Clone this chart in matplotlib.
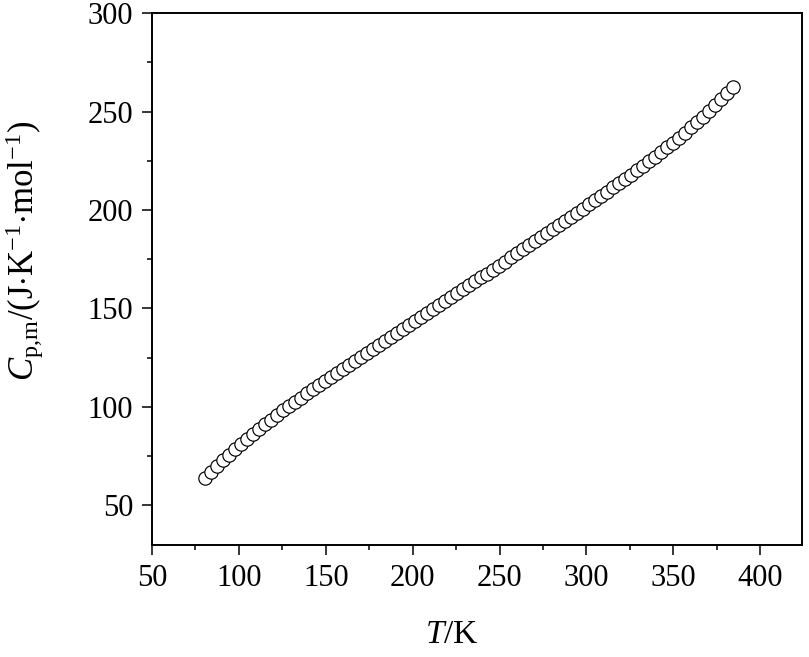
import matplotlib
matplotlib.use("Agg")
import matplotlib.pyplot as plt
from matplotlib.ticker import MultipleLocator

T = [80.5, 84.0, 87.4, 90.9, 94.3, 97.8, 101.2, 104.7, 108.1, 111.6,
     115.0, 118.5, 121.9, 125.4, 128.8, 132.3, 135.7, 139.2, 142.6, 146.1,
     149.5, 153.0, 156.4, 159.9, 163.3, 166.8, 170.2, 173.7, 177.1, 180.6,
     184.0, 187.5, 190.9, 194.4, 197.8, 201.3, 204.7, 208.2, 211.6, 215.1,
     218.5, 222.0, 225.4, 228.9, 232.3, 235.8, 239.2, 242.7, 246.1, 249.6,
     253.0, 256.5, 259.9, 263.4, 266.8, 270.3, 273.7, 277.2, 280.6, 284.1,
     287.5, 291.0, 294.4, 297.9, 301.3, 304.8, 308.2, 311.7, 315.1, 318.6,
     322.0, 325.5, 328.9, 332.4, 335.8, 339.3, 342.7, 346.2, 349.6, 353.1,
     356.5, 360.0, 363.4, 366.9, 370.3, 373.8, 377.2, 380.7, 384.1]

Cp = [63.6, 66.7, 69.7, 72.7, 75.5, 78.4, 81.1, 83.7, 86.3, 88.9,
      91.2, 93.5, 95.9, 98.2, 100.3, 102.5, 104.6, 106.8, 108.9, 111.0,
      113.1, 115.2, 117.2, 119.3, 121.3, 123.4, 125.4, 127.4, 129.4, 131.5,
      133.5, 135.6, 137.6, 139.7, 141.7, 143.7, 145.7, 147.7, 149.7, 151.7,
      153.7, 155.7, 157.7, 159.7, 161.7, 163.7, 165.7, 167.7, 169.7, 171.7,
      173.8, 175.9, 177.9, 180.0, 182.0, 184.1, 186.2, 188.3, 190.3, 192.4,
      194.5, 196.6, 198.6, 200.7, 202.8, 205.0, 207.1, 209.3, 211.5, 213.7,
      215.8, 218.0, 220.2, 222.5, 224.8, 227.2, 229.5, 231.9, 234.2, 236.8,
      239.4, 242.1, 244.6, 247.5, 250.5, 253.5, 256.5, 259.5, 262.5]

x_ticks = [50, 100, 150, 200, 250, 300, 350, 400]
y_ticks = [50, 100, 150, 200, 250, 300]

plt.rcParams['font.family'] = ['Liberation Serif', 'DejaVu Serif']
plt.rcParams['mathtext.fontset'] = 'custom'
plt.rcParams['mathtext.rm'] = 'Liberation Serif'
plt.rcParams['mathtext.it'] = 'Liberation Serif:italic'

fig = plt.figure(figsize=(8.09, 6.57), dpi=100)
ax = fig.add_axes([152/809, 1-545/657, 650/809, (545-13.3)/657])

ax.plot(T, Cp, linestyle='none', marker='o', markersize=9.6,
        markerfacecolor='white', markeredgecolor='black', markeredgewidth=0.85)

ax.set_xlim(50, 424)
ax.set_ylim(29.7, 300)
ax.set_xticks(x_ticks)
ax.set_yticks(y_ticks)
ax.xaxis.set_minor_locator(MultipleLocator(25))
ax.yaxis.set_minor_locator(MultipleLocator(25))

for s in ax.spines.values():
    s.set_linewidth(1.4)

ax.tick_params(which='major', direction='out', length=7.5, width=1.1,
               labelsize=22, pad=6, top=False, right=False)
ax.tick_params(which='minor', direction='out', length=3.5, width=1.1,
               top=False, right=False)

ax.set_xlabel(r'$\mathit{T}$/K', fontsize=24)
ax.set_ylabel(r'$\mathit{C}_{\mathrm{p{,}m}}\mathrm{/(J{\cdot}K^{-1}{\cdot}mol^{-1})}$', fontsize=25)
ax.xaxis.set_label_coords(0.461, -0.14)
ax.yaxis.set_label_coords(-0.163, 0.553)

fig.savefig('out.png', dpi=100)
